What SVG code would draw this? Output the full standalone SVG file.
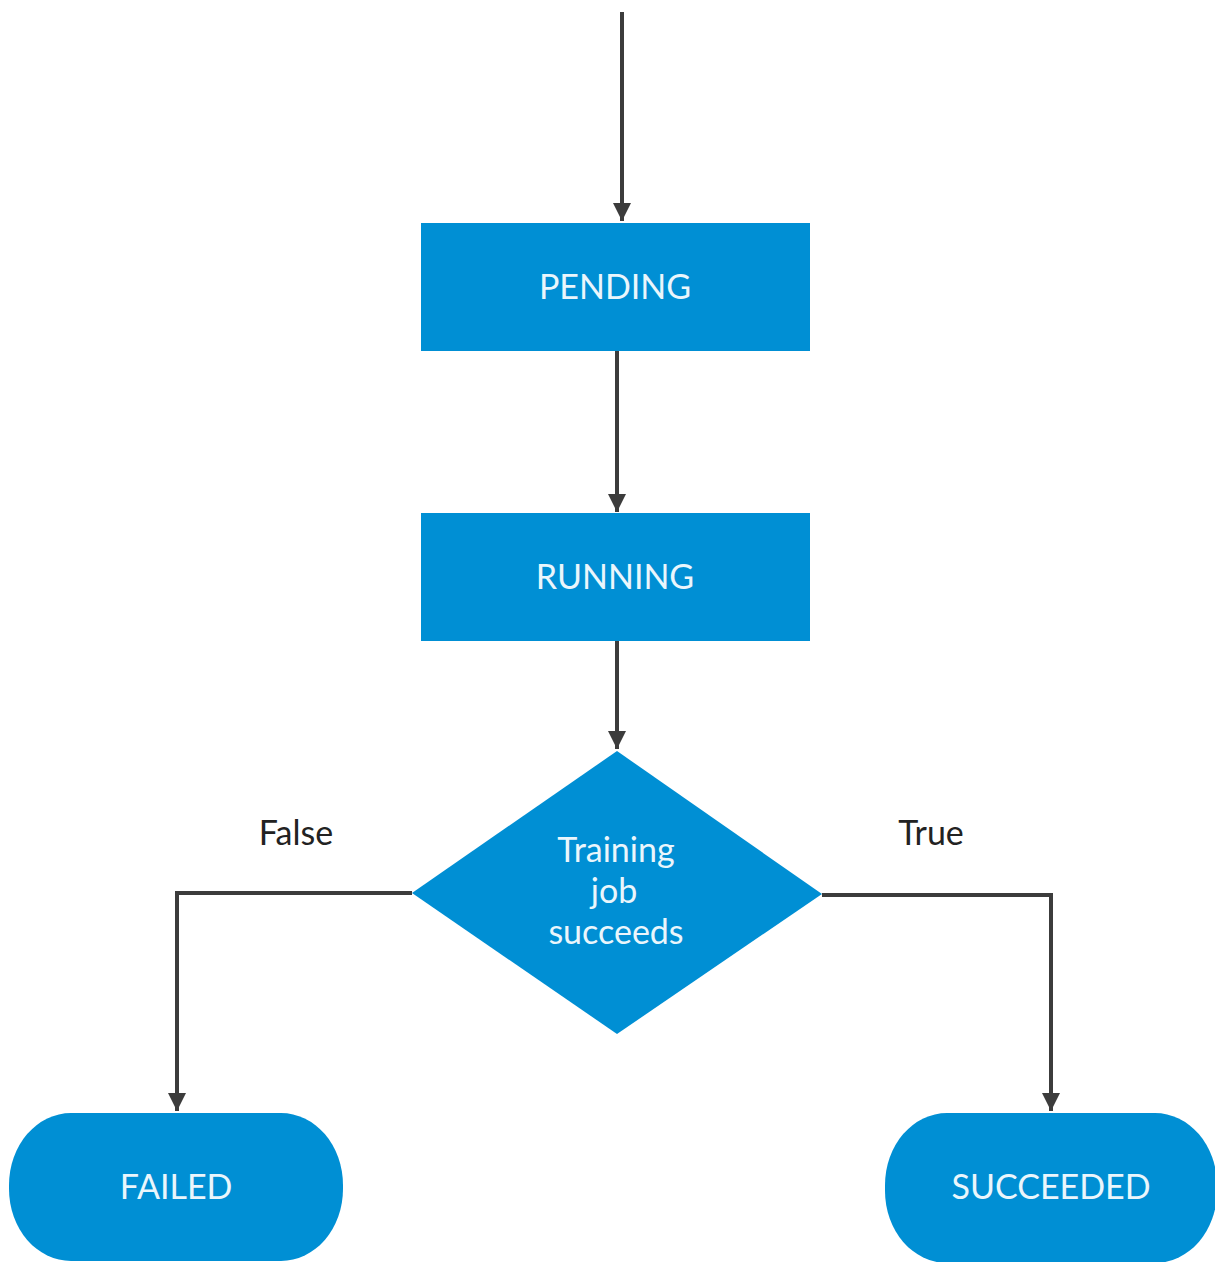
<svg xmlns="http://www.w3.org/2000/svg" width="1215" height="1262" viewBox="0 0 1215 1262">
<style>
.node{fill:#008fd4}
.nt{font-family:Lato,"Noto Sans",sans-serif;font-size:34px;fill:#eaf6fc;text-anchor:middle}
.lbl{font-family:Lato,"Noto Sans",sans-serif;font-size:34px;fill:#222;text-anchor:middle}
.c{stroke:#3c3c3c;stroke-width:4;fill:none}
</style>
<defs>
<marker id="ah" viewBox="0 0 10 10" refX="10" refY="5" markerWidth="4.5" markerHeight="4.5" markerUnits="strokeWidth" orient="auto">
<path d="M0,0 L10,5 L0,10 z" fill="#3c3c3c"/>
</marker>
</defs>
<rect width="1215" height="1262" fill="#fff"/>
<g id="connectors">
<path class="c" d="M622,12 V221" marker-end="url(#ah)"/>
<path class="c" d="M617,351 V512" marker-end="url(#ah)"/>
<path class="c" d="M617,641 V749" marker-end="url(#ah)"/>
<path class="c" d="M412,893 H177 V1111" marker-end="url(#ah)"/>
<path class="c" d="M822,895 H1051 V1111" marker-end="url(#ah)"/>
</g>
<g id="pending"><rect class="node" x="421" y="223" width="389" height="128"/><text class="nt" x="615" y="299">PENDING</text></g>
<g id="running"><rect class="node" x="421" y="513" width="389" height="128"/><text class="nt" x="615" y="589">RUNNING</text></g>
<g id="decision"><polygon class="node" points="617,751 822,894 617,1034 412,893"/>
<text class="nt" x="616" y="862">Training</text><text class="nt" x="614" y="903">job</text><text class="nt" x="616" y="944">succeeds</text></g>
<g id="failed"><rect class="node" x="9" y="1113" width="334" height="148" rx="62" ry="72"/><text class="nt" x="176" y="1199">FAILED</text></g>
<g id="succeeded"><rect class="node" x="885" y="1113" width="332" height="150" rx="62" ry="72"/><text class="nt" x="1051" y="1199">SUCCEEDED</text></g>
<g id="labels"><text class="lbl" x="296" y="845">False</text><text class="lbl" x="931" y="845">True</text></g>
</svg>
